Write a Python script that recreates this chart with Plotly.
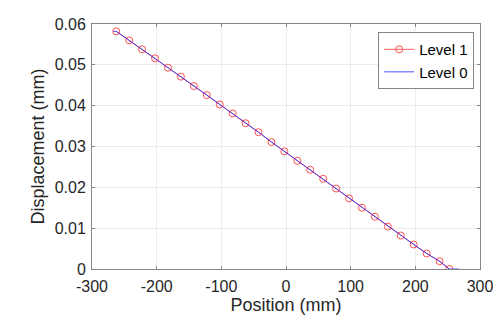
"""Displacement along position, Level 1 vs Level 0."""

import plotly.graph_objects as go

# Level 1 samples (red circles).
level1_position = [-262.5, -242.5, -222.5, -202.5, -182.5, -162.5, -142.5, -122.5, -102.5,
                   -82.5, -62.5, -42.5, -22.5, -2.5, 17.5, 37.5, 57.5, 77.5, 97.5,
                   117.5, 137.5, 157.5, 177.5, 197.5, 217.5, 237.5, 252.5]
level1_displacement = [0.0582, 0.0560, 0.0538, 0.0516, 0.0493, 0.0471, 0.0448, 0.0426, 0.0403,
                       0.0381, 0.0357, 0.0335, 0.0311, 0.0288, 0.0265, 0.0243, 0.0221, 0.0197,
                       0.0173, 0.0150, 0.0128, 0.0104, 0.0082, 0.0060, 0.0038, 0.0019, 0.0]

# Level 0 (blue line), flat at both ends.
level0_position = [-267.0, -262.5, -242.5, -222.5, -202.5, -182.5, -162.5, -142.5, -122.5, -102.5,
                   -82.5, -62.5, -42.5, -22.5, -2.5, 17.5, 37.5, 57.5, 77.5, 97.5,
                   117.5, 137.5, 157.5, 177.5, 197.5, 217.5, 237.5, 252.5, 267.0]
level0_displacement = [0.0582, 0.0582, 0.0560, 0.0538, 0.0516, 0.0493, 0.0471, 0.0448, 0.0426, 0.0403,
                       0.0381, 0.0357, 0.0335, 0.0311, 0.0288, 0.0265, 0.0243, 0.0221, 0.0197,
                       0.0173, 0.0150, 0.0128, 0.0104, 0.0082, 0.0060, 0.0038, 0.0019, 0.0, 0.0]

x_ticks = [-300, -200, -100, 0, 100, 200, 300]
x_tick_labels = ['-300', '-200', '-100', '0', '100', '200', '300']
y_ticks = [0, 0.01, 0.02, 0.03, 0.04, 0.05, 0.06]
y_tick_labels = ['0', '0.01', '0.02', '0.03', '0.04', '0.05', '0.06']

axis_color = '#858585'
grid_color = '#ebebeb'
text_color = '#262626'

figure = go.Figure()
figure.add_scatter(
    x=level1_position,
    y=level1_displacement,
    name='Level 1',
    mode='lines+markers',
    line=go.scatter.Line(color='#ff3030', width=0.8),
    marker=go.scatter.Marker(symbol='circle-open', size=7, color='#ff5050', line=dict(width=1))
)
figure.add_scatter(
    x=level0_position,
    y=level0_displacement,
    name='Level 0',
    mode='lines',
    line=go.scatter.Line(color='#2020ff', width=0.8)
)

axis_common = dict(
    automargin=False,
    showline=True,
    linecolor=axis_color,
    linewidth=1,
    mirror='allticks',
    ticks='inside',
    ticklen=3,
    tickcolor=axis_color,
    showgrid=True,
    gridcolor=grid_color,
    gridwidth=1,
    zeroline=False,
    tickfont=dict(size=16, color=text_color),
)

figure.update_layout(
    width=501,
    height=327,
    margin=dict(l=84, r=29, t=16, b=66),
    paper_bgcolor='white',
    plot_bgcolor='white',
    font=dict(family='Liberation Sans, Arial, sans-serif', color=text_color),
    xaxis=go.layout.XAxis(
        range=[-300, 300],
        tickvals=x_ticks,
        ticktext=x_tick_labels,
        ticklabelstandoff=3,
        title=dict(text='Position (mm)', font=dict(size=18), standoff=0),
        **axis_common
    ),
    yaxis=go.layout.YAxis(
        range=[0, 0.06],
        tickvals=y_ticks,
        ticktext=y_tick_labels,
        ticklabelstandoff=2,
        title=dict(text='Displacement (mm)', font=dict(size=18), standoff=5),
        **axis_common
    ),
    legend=go.layout.Legend(
        x=0.985, xanchor='right', y=0.967, yanchor='top',
        bgcolor='white', bordercolor=axis_color, borderwidth=1,
        font=dict(size=15, color='black'),
        tracegroupgap=0, itemwidth=30
    ),
)

figure.write_html("out.html")
